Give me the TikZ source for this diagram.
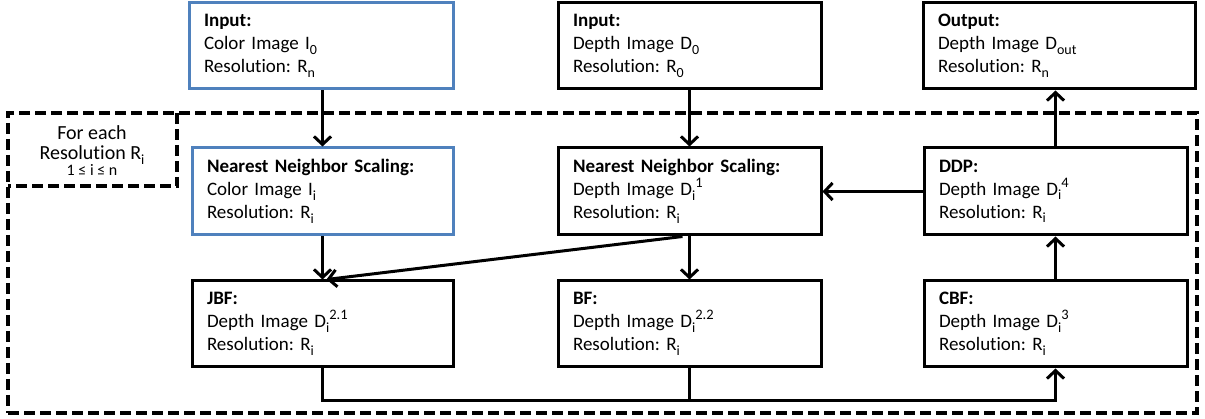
\documentclass[tikz,border=0pt]{standalone}
\usepackage{fontspec}
\setmainfont{Carlito}[Ligatures=NoCommon]
\frenchspacing
\usetikzlibrary{arrows.meta}
\newcommand\lo[1]{\raisebox{-0.24em}{\fontsize{14}{14}\selectfont #1}}
\newcommand\hi[1]{\raisebox{0.42em}{\fontsize{14.5}{14.5}\selectfont #1}}
\definecolor{offblue}{RGB}{79,129,189}
\begin{document}
\begin{tikzpicture}[x=1pt,y=-1pt,
  box/.style={draw, line width=3pt, rectangle, align=left, inner xsep=15pt, inner ysep=0pt,
              font=\fontsize{19}{23}\selectfont},
  bluebox/.style={box, draw=offblue},
  arr/.style={line width=3pt, -{Straight Barb[length=8pt,width=17pt]}},
  link/.style={line width=3pt},
  loopframe/.style={draw, line width=4.5pt, dash pattern=on 11pt off 5pt}]
\useasboundingbox (0,0) rectangle (1205,419);
% outer loop frame
\node[loopframe, minimum width=1189pt, minimum height=300pt, inner sep=0pt] (loop) at (602.5,263) {};
\node[minimum width=169pt, minimum height=73pt, inner sep=0pt] (fe) at (92.5,149.5) {};
\draw[loopframe] (fe.north east) -- (fe.south east) -- (fe.south west);
\node[align=center, font=\fontsize{20}{20}\selectfont, inner sep=0pt] (fet) at (92,151)
  {For each\\Resolution R\lo{i}\\[-4pt]{\fontsize{16}{14}\selectfont 1 ≤ i ≤ n}};
% top row
\node[bluebox, minimum width=264pt, minimum height=86pt, text width=234pt] (in1) at (321,46)
  {\textbf{Input:}\\Color Image I\lo{0}\\Resolution: R\lo{n}};
\node[box, minimum width=263pt, minimum height=86pt, text width=233pt] (in2) at (689.5,46)
  {\textbf{Input:}\\Depth Image D\lo{0}\\Resolution: R\lo{0}};
\node[box, minimum width=272pt, minimum height=86pt, text width=242pt] (out) at (1059,46)
  {\textbf{Output:}\\Depth Image D\lo{out}\\Resolution: R\lo{n}};
% middle row
\node[bluebox, minimum width=261pt, minimum height=87pt, text width=231pt] (nn1) at (322.5,191.5)
  {\textbf{Nearest Neighbor Scaling:}\\Color Image I\lo{i}\\Resolution: R\lo{i}};
\node[box, minimum width=263pt, minimum height=87pt, text width=233pt] (nn2) at (689.5,191.5)
  {\textbf{Nearest Neighbor Scaling:}\\Depth Image D\lo{i}\hi{1}\\Resolution: R\lo{i}};
\node[box, minimum width=263pt, minimum height=87pt, text width=233pt] (ddp) at (1055.5,191.5)
  {\textbf{DDP:}\\Depth Image D\lo{i}\hi{4}\\Resolution: R\lo{i}};
% bottom row
\node[box, minimum width=261pt, minimum height=86pt, text width=231pt] (jbf) at (322.5,324)
  {\textbf{JBF:}\\Depth Image D\lo{i}\hi{2.1}\\Resolution: R\lo{i}};
\node[box, minimum width=263pt, minimum height=86pt, text width=233pt] (bf) at (689.5,324)
  {\textbf{BF:}\\Depth Image D\lo{i}\hi{2.2}\\Resolution: R\lo{i}};
\node[box, minimum width=263pt, minimum height=86pt, text width=233pt] (cbf) at (1055.5,324)
  {\textbf{CBF:}\\Depth Image D\lo{i}\hi{3}\\Resolution: R\lo{i}};
% connectors
\coordinate (j) at (0,401);
\draw[arr] (in1.south -| nn1.north) -- (nn1.north);
\draw[arr] (in2) -- (nn2);
\draw[arr] (nn1) -- (jbf);
\draw[arr] (nn2) -- (bf);
\draw[arr] ([xshift=-7pt]nn2.south) -- ([xshift=4pt]jbf.north);
\draw[arr] (ddp) -- (nn2);
\draw[arr] (cbf) -- (ddp);
\draw[arr] (ddp.north) -- (ddp.north |- out.south);
\draw[arr] (jbf.south) -- (jbf.south |- j) -| (cbf.south);
\draw[link] (bf.south) -- (bf.south |- j);
\end{tikzpicture}
\end{document}
